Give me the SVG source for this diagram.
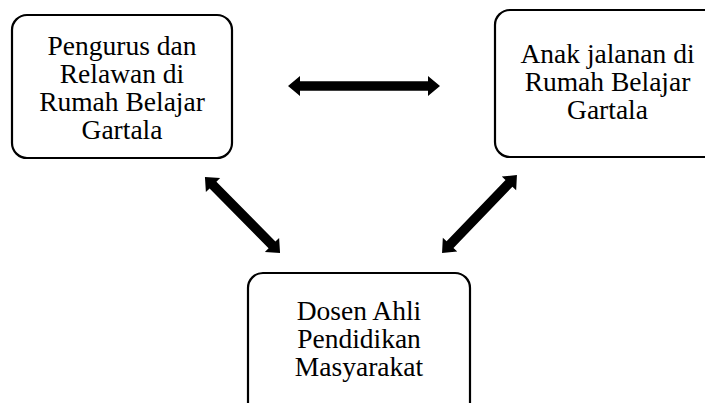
<svg xmlns="http://www.w3.org/2000/svg" width="705" height="403" viewBox="0 0 705 403">
<style>
.box{fill:#fff;stroke:#000;stroke-width:2.2}
.t{font-family:"Liberation Serif","Times New Roman",serif;font-size:27.5px;fill:#000;text-anchor:middle}
.arr{fill:#000}
</style>
<rect width="705" height="403" fill="#fff"/>
<g id="connectors">
<polygon class="arr" transform="translate(364,86)" points="-76,0 -64,-10 -64,-4.8 64,-4.8 64,-10 76,0 64,10 64,4.8 -64,4.8 -64,10"/>
<polygon class="arr" transform="translate(242.5,215) rotate(45.4)" points="-53.5,0 -42,-10 -42,-4.8 42,-4.8 42,-10 53.5,0 42,10 42,4.8 -42,4.8 -42,10"/>
<polygon class="arr" transform="translate(479.5,214) rotate(-46.1)" points="-54,0 -42.5,-10 -42.5,-4.8 42.5,-4.8 42.5,-10 54,0 42.5,10 42.5,4.8 -42.5,4.8 -42.5,10"/>
</g>
<g id="node-pengurus">
<rect class="box" x="12" y="15" width="220" height="143" rx="15"/>
<text class="t" y="54.5"><tspan x="122">Pengurus dan</tspan><tspan x="122" dy="28">Relawan di</tspan><tspan x="122" dy="28">Rumah Belajar</tspan><tspan x="122" dy="28">Gartala</tspan></text>
</g>
<g id="node-anak">
<rect class="box" x="495" y="10" width="225" height="147" rx="15"/>
<text class="t" y="63"><tspan x="607.5">Anak jalanan di</tspan><tspan x="607.5" dy="28">Rumah Belajar</tspan><tspan x="607.5" dy="28">Gartala</tspan></text>
</g>
<g id="node-dosen">
<rect class="box" x="248" y="273" width="222" height="150" rx="15"/>
<text class="t" y="319.5"><tspan x="359">Dosen Ahli</tspan><tspan x="359" dy="28">Pendidikan</tspan><tspan x="359" dy="28">Masyarakat</tspan></text>
</g>
</svg>
